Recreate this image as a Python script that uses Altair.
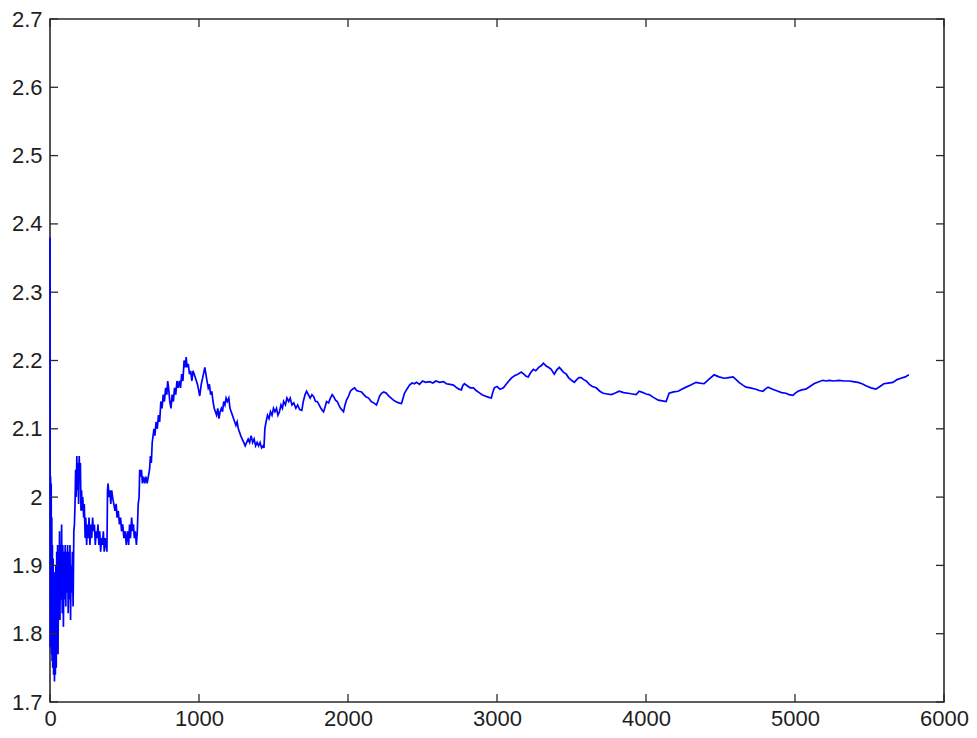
import altair as alt
import pandas as pd

# Series
xs = [0, 2, 4, 6, 8, 10, 12, 14, 16, 18, 21, 24, 27, 30, 33, 36, 39, 42, 45, 48, 51, 54, 57, 60, 64, 67, 70, 74, 78, 82, 86, 90, 94, 98, 102, 106, 110, 114, 118, 122, 126, 130, 134, 138, 142, 146, 150, 155, 160, 164, 168, 172, 176, 180, 184, 188, 192, 196, 200, 204, 208, 212, 216, 220, 226, 230, 236, 240, 246, 250, 256, 262, 268, 274, 280, 286, 292, 298, 304, 310, 316, 322, 328, 334, 340, 346, 352, 358, 364, 370, 376, 382, 386, 390, 396, 402, 408, 414, 420, 428, 436, 444, 450, 458, 466, 474, 480, 488, 496, 504, 512, 520, 528, 534, 540, 548, 554, 560, 566, 572, 580, 586, 592, 598, 602, 608, 614, 620, 628, 636, 644, 652, 660, 668, 674, 680, 686, 692, 698, 704, 712, 720, 728, 736, 744, 752, 760, 768, 776, 784, 790, 796, 804, 812, 820, 828, 836, 844, 852, 860, 868, 876, 884, 892, 900, 908, 914, 920, 928, 936, 944, 952, 960, 975, 990, 1005, 1015, 1030, 1039, 1050, 1062, 1070, 1078, 1086, 1094, 1102, 1110, 1118, 1126, 1134, 1142, 1150, 1158, 1166, 1174, 1182, 1190, 1200, 1208, 1216, 1224, 1232, 1240, 1248, 1256, 1264, 1272, 1280, 1290, 1300, 1310, 1320, 1330, 1340, 1350, 1360, 1370, 1380, 1390, 1400, 1410, 1420, 1430, 1436, 1442, 1450, 1460, 1470, 1480, 1490, 1500, 1510, 1520, 1530, 1540, 1550, 1560, 1568, 1580, 1590, 1602, 1612, 1624, 1636, 1650, 1662, 1676, 1690, 1700, 1712, 1722, 1734, 1746, 1758, 1770, 1782, 1794, 1806, 1818, 1828, 1836, 1846, 1856, 1870, 1882, 1894, 1904, 1916, 1928, 1938, 1950, 1962, 1970, 1980, 1990, 2004, 2016, 2030, 2044, 2058, 2072, 2091, 2106, 2120, 2138, 2156, 2172, 2191, 2200, 2212, 2225, 2240, 2258, 2272, 2290, 2305, 2320, 2340, 2359, 2370, 2379, 2395, 2413, 2430, 2445, 2460, 2480, 2500, 2520, 2547, 2570, 2590, 2615, 2641, 2660, 2685, 2708, 2730, 2745, 2761, 2770, 2781, 2800, 2820, 2842, 2860, 2880, 2900, 2920, 2945, 2962, 2970, 2982, 3000, 3020, 3043, 3060, 3083, 3100, 3120, 3140, 3163, 3180, 3195, 3210, 3225, 3244, 3260, 3280, 3300, 3311, 3330, 3345, 3364, 3375, 3385, 3400, 3418, 3430, 3445, 3465, 3480, 3500, 3519, 3535, 3550, 3565, 3582, 3599, 3620, 3640, 3666, 3690, 3713, 3740, 3767, 3790, 3820, 3850, 3880, 3910, 3934, 3954, 3980, 4000, 4021, 4050, 4082, 4110, 4135, 4155, 4185, 4216, 4240, 4269, 4300, 4336, 4360, 4390, 4420, 4457, 4490, 4524, 4555, 4584, 4605, 4624, 4650, 4671, 4700, 4738, 4760, 4785, 4800, 4819, 4850, 4886, 4910, 4939, 4960, 4986, 5000, 5020, 5045, 5073, 5100, 5127, 5160, 5187, 5210, 5228, 5260, 5295, 5330, 5362, 5390, 5422, 5450, 5476, 5510, 5543, 5570, 5596, 5625, 5657, 5685, 5710, 5740, 5764]
ys = [2.38, 1.78, 2.03, 1.79, 2.02, 1.77, 1.97, 1.76, 1.93, 1.75, 1.91, 1.74, 1.89, 1.73, 1.87, 1.74, 1.90, 1.75, 1.92, 1.79, 1.93, 1.77, 1.89, 1.84, 1.95, 1.82, 1.93, 1.85, 1.96, 1.83, 1.93, 1.81, 1.92, 1.85, 1.93, 1.84, 1.92, 1.86, 1.93, 1.83, 1.92, 1.85, 1.93, 1.82, 1.90, 1.86, 1.92, 1.84, 1.95, 1.96, 1.99, 2.04, 2.00, 2.06, 2.01, 2.05, 1.99, 2.06, 2.03, 2.05, 1.98, 2.01, 1.98, 2.00, 1.97, 1.99, 1.94, 1.97, 1.93, 1.96, 1.94, 1.97, 1.93, 1.96, 1.94, 1.97, 1.95, 1.96, 1.93, 1.95, 1.94, 1.96, 1.93, 1.95, 1.92, 1.94, 1.93, 1.95, 1.92, 1.94, 1.93, 1.92, 2.01, 2.02, 2.00, 2.01, 1.99, 2.01, 2.00, 1.99, 1.98, 1.99, 1.97, 1.98, 1.96, 1.97, 1.95, 1.96, 1.94, 1.95, 1.93, 1.95, 1.93, 1.96, 1.94, 1.97, 1.95, 1.96, 1.94, 1.95, 1.93, 1.95, 1.99, 2.00, 2.04, 2.03, 2.04, 2.02, 2.03, 2.02, 2.03, 2.02, 2.03, 2.04, 2.06, 2.05, 2.08, 2.09, 2.10, 2.09, 2.11, 2.10, 2.12, 2.11, 2.14, 2.13, 2.15, 2.14, 2.16, 2.15, 2.17, 2.16, 2.14, 2.13, 2.15, 2.14, 2.16, 2.15, 2.17, 2.16, 2.17, 2.16, 2.18, 2.17, 2.20, 2.19, 2.205, 2.19, 2.195, 2.18, 2.185, 2.17, 2.185, 2.175, 2.165, 2.148, 2.165, 2.18, 2.19, 2.175, 2.16, 2.165, 2.15, 2.155, 2.14, 2.13, 2.125, 2.12, 2.13, 2.115, 2.125, 2.13, 2.125, 2.14, 2.135, 2.145, 2.14, 2.145, 2.13, 2.125, 2.12, 2.115, 2.11, 2.105, 2.11, 2.10, 2.095, 2.09, 2.085, 2.08, 2.075, 2.08, 2.085, 2.08, 2.09, 2.08, 2.085, 2.075, 2.08, 2.075, 2.08, 2.072, 2.075, 2.072, 2.10, 2.11, 2.12, 2.115, 2.125, 2.12, 2.13, 2.125, 2.13, 2.12, 2.125, 2.135, 2.13, 2.14, 2.135, 2.145, 2.14, 2.145, 2.135, 2.138, 2.13, 2.135, 2.128, 2.127, 2.14, 2.15, 2.155, 2.15, 2.145, 2.15, 2.147, 2.14, 2.14, 2.135, 2.13, 2.127, 2.125, 2.132, 2.14, 2.138, 2.145, 2.15, 2.147, 2.142, 2.14, 2.135, 2.13, 2.127, 2.125, 2.135, 2.142, 2.148, 2.155, 2.158, 2.16, 2.156, 2.155, 2.154, 2.15, 2.147, 2.145, 2.14, 2.138, 2.135, 2.14, 2.148, 2.152, 2.154, 2.152, 2.148, 2.145, 2.142, 2.14, 2.138, 2.137, 2.145, 2.152, 2.158, 2.164, 2.167, 2.166, 2.168, 2.165, 2.17, 2.168, 2.169, 2.167, 2.17, 2.168, 2.169, 2.166, 2.165, 2.164, 2.16, 2.158, 2.157, 2.163, 2.166, 2.163, 2.16, 2.16, 2.156, 2.153, 2.15, 2.148, 2.146, 2.145, 2.152, 2.16, 2.162, 2.158, 2.16, 2.165, 2.171, 2.175, 2.178, 2.18, 2.183, 2.18, 2.177, 2.176, 2.182, 2.187, 2.185, 2.19, 2.193, 2.196, 2.192, 2.19, 2.187, 2.183, 2.18, 2.186, 2.19, 2.187, 2.183, 2.18, 2.175, 2.171, 2.168, 2.172, 2.175, 2.175, 2.172, 2.17, 2.165, 2.162, 2.16, 2.155, 2.152, 2.151, 2.15, 2.152, 2.155, 2.153, 2.152, 2.151, 2.15, 2.155, 2.153, 2.151, 2.15, 2.146, 2.142, 2.141, 2.14, 2.152, 2.154, 2.155, 2.158, 2.161, 2.164, 2.168, 2.167, 2.166, 2.172, 2.179, 2.176, 2.174, 2.175, 2.176, 2.172, 2.168, 2.164, 2.161, 2.16, 2.158, 2.156, 2.155, 2.158, 2.161, 2.158, 2.155, 2.153, 2.152, 2.15, 2.149, 2.152, 2.155, 2.157, 2.158, 2.162, 2.166, 2.169, 2.171, 2.17, 2.171, 2.17, 2.171, 2.17, 2.17, 2.169, 2.168, 2.166, 2.163, 2.16, 2.158, 2.162, 2.166, 2.167, 2.168, 2.172, 2.174, 2.176, 2.179]

x_ticks = [0, 1000, 2000, 3000, 4000, 5000, 6000]
y_ticks = [1.7, 1.8, 1.9, 2.0, 2.1, 2.2, 2.3, 2.4, 2.5, 2.6, 2.7]

W, H = 894, 683
FONT = "Liberation Sans"
FRAME = "#2a2a2a"

df = pd.DataFrame({"x": xs, "y": ys})
xt = pd.DataFrame({"v": x_ticks})
yt = pd.DataFrame({"v": y_ticks})

xscale = alt.Scale(domain=[0, 6000], nice=False, zero=False)
yscale = alt.Scale(domain=[1.7, 2.7], nice=False, zero=False)

line = alt.Chart(df).mark_line(color="#0000ff", strokeWidth=1.7, interpolate="linear").encode(
    x=alt.X("x:Q", scale=xscale, axis=alt.Axis(
        values=x_ticks, format="d", title=None, grid=False, domain=False,
        tickSize=0, labelPadding=6, labelFontSize=22, labelFont=FONT,
        labelColor="#1e1e1e", labelFlush=False)),
    y=alt.Y("y:Q", scale=yscale, axis=alt.Axis(
        values=y_ticks, format="~g", title=None, grid=False, domain=False,
        tickSize=0, labelPadding=8, labelFontSize=22, labelFont=FONT,
        labelColor="#1e1e1e", labelFlush=False)),
)

tl = 8
left_ticks = alt.Chart(yt).mark_rule(color=FRAME, strokeWidth=1.3).encode(
    y=alt.Y("v:Q", scale=yscale), x=alt.value(0), x2=alt.value(tl))
right_ticks = alt.Chart(yt).mark_rule(color=FRAME, strokeWidth=1.3).encode(
    y=alt.Y("v:Q", scale=yscale), x=alt.value(W - tl), x2=alt.value(W))
bottom_ticks = alt.Chart(xt).mark_rule(color=FRAME, strokeWidth=1.3).encode(
    x=alt.X("v:Q", scale=xscale), y=alt.value(H - tl), y2=alt.value(H))
top_ticks = alt.Chart(xt).mark_rule(color=FRAME, strokeWidth=1.3).encode(
    x=alt.X("v:Q", scale=xscale), y=alt.value(0), y2=alt.value(tl))

chart = alt.layer(line, left_ticks, right_ticks, bottom_ticks, top_ticks).properties(
    width=W, height=H,
    autosize=alt.AutoSizeParams(type="none"),
    padding={"left": 42, "top": 11, "right": 25, "bottom": 28},
).configure(background="white").configure_view(stroke=FRAME, strokeWidth=1.6)

chart.save("out.html", embed_options={"renderer": "svg", "actions": False})
